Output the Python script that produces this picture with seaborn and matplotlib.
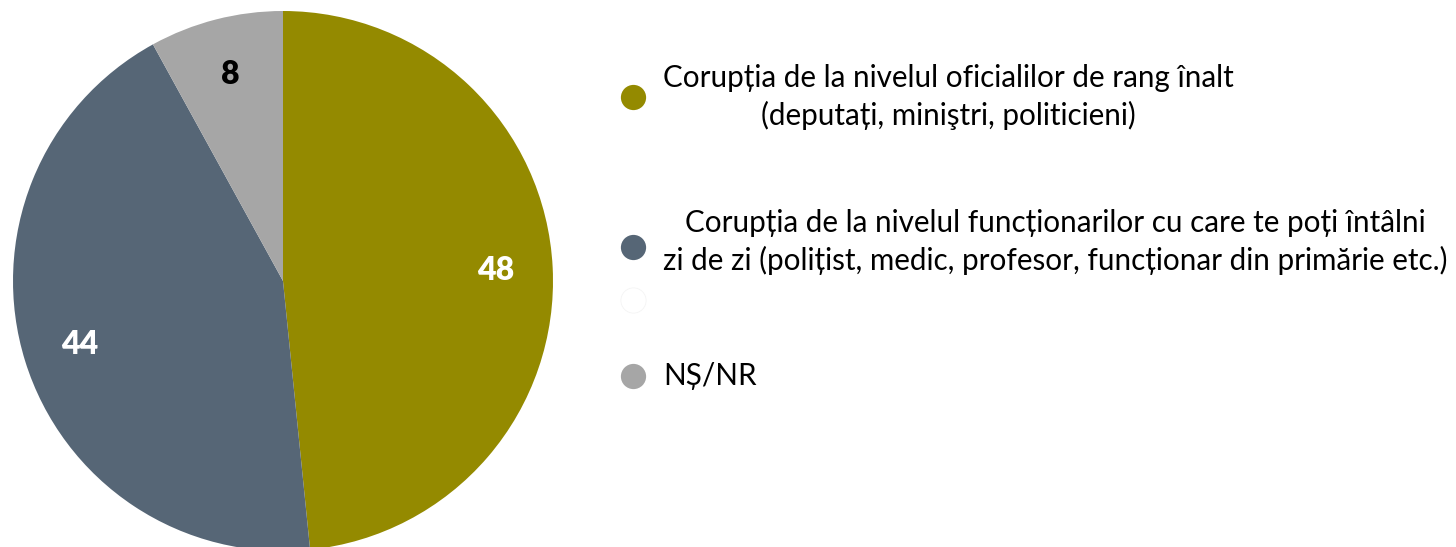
import matplotlib
matplotlib.use("Agg")
import matplotlib.pyplot as plt
import seaborn as sns

# data (slice sizes,
# labels show the rounded numbers)
labels = [
    "Corupția de la nivelul oficialilor de rang înalt\n(deputați, miniştri, politicieni)",
    "Corupția de la nivelul funcționarilor cu care te poți întâlni\nzi de zi (polițist, medic, profesor, funcționar din primărie etc.)",
    "NȘ/NR",
]
values = [48.4, 43.6, 8.0]
colors = ["#948A00", "#566676", "#A6A6A6"]
value_colors = ["white", "white", "black"]

sns.set_style("white")
plt.rcParams["font.family"] = ["Lato", "DejaVu Sans"]

W, H = 1456, 547
fig = plt.figure(figsize=(W / 100, H / 100), dpi=100)

# pie axes: centre at (283, 281) px, radius 270 px
cx, cy, r = 283, 281, 270
ax = fig.add_axes([(cx - r) / W, (H - cy - r) / H, 2 * r / W, 2 * r / H])
wedges, texts, autotexts = ax.pie(
    values,
    colors=colors,
    startangle=90,
    counterclock=False,
    autopct=lambda p: f"{p:.0f}",
    pctdistance=0.79,
    wedgeprops=dict(linewidth=0),
)
for t, c in zip(autotexts, value_colors):
    t.set_color(c)
    t.set_fontsize(23)
    t.set_fontweight("heavy")
ax.set_xlim(-1, 1)
ax.set_ylim(-1, 1)
ax.set_aspect("equal")
ax.axis("off")

# legend drawn by hand (uneven spacing in the original)
lax = fig.add_axes([0, 0, 1, 1])
lax.set_xlim(0, W)
lax.set_ylim(H, 0)
lax.axis("off")

marker_y = [97, 247, 376]
text_y = [97, 242, 376]
for lab, col, my, ty in zip(labels, colors, marker_y, text_y):
    lax.scatter([633], [my], s=330, color=col, marker="o", linewidths=0)
    lax.text(663, ty, lab, ha="left", va="center", multialignment="center",
             fontsize=21.3, color="black", linespacing=1.39)
# empty legend slot (white marker)
lax.scatter([633], [300], s=330, color="white", edgecolors="#F4F4F4", linewidths=0.6)

fig.savefig("out.png", dpi=100)
